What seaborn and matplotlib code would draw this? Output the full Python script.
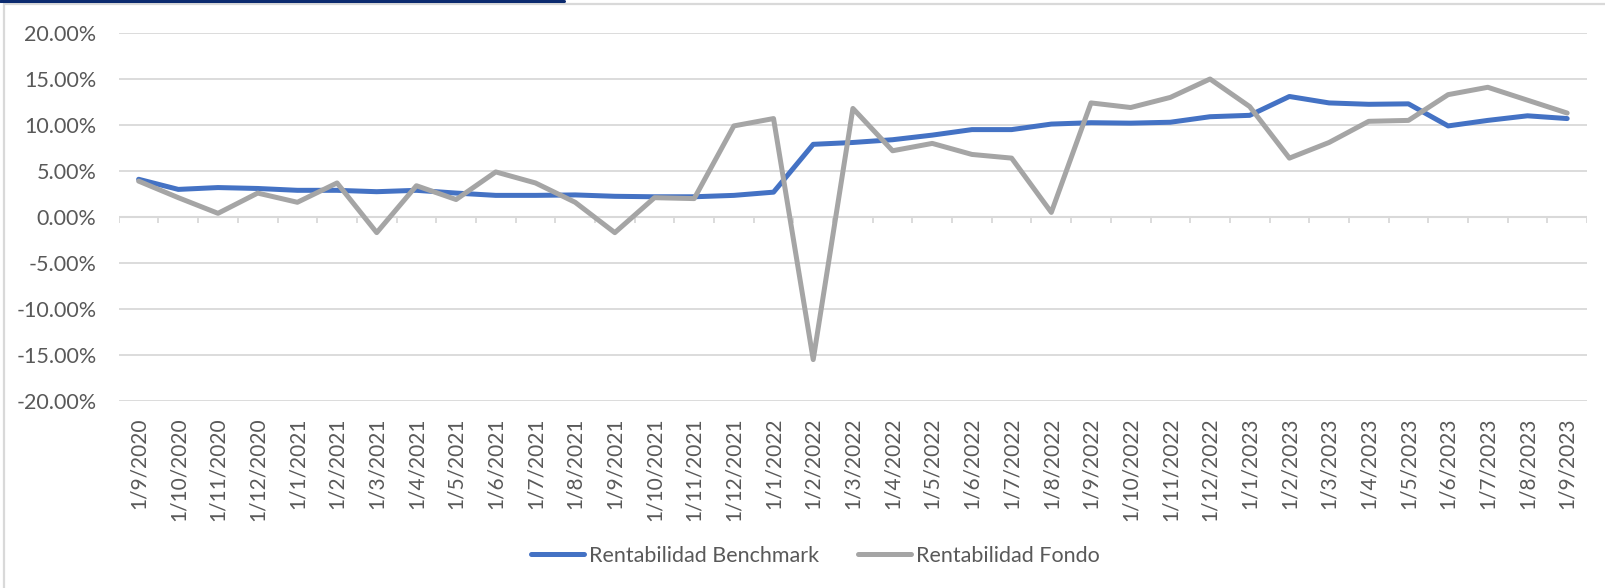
import numpy as np
import pandas as pd
import matplotlib
matplotlib.use("Agg")
import matplotlib.pyplot as plt
from matplotlib.lines import Line2D
import seaborn as sns

dates = ["1/9/2020", "1/10/2020", "1/11/2020", "1/12/2020",
         "1/1/2021", "1/2/2021", "1/3/2021", "1/4/2021", "1/5/2021", "1/6/2021",
         "1/7/2021", "1/8/2021", "1/9/2021", "1/10/2021", "1/11/2021", "1/12/2021",
         "1/1/2022", "1/2/2022", "1/3/2022", "1/4/2022", "1/5/2022", "1/6/2022",
         "1/7/2022", "1/8/2022", "1/9/2022", "1/10/2022", "1/11/2022", "1/12/2022",
         "1/1/2023", "1/2/2023", "1/3/2023", "1/4/2023", "1/5/2023", "1/6/2023",
         "1/7/2023", "1/8/2023", "1/9/2023"]

benchmark = [4.1, 3.0, 3.2, 3.1, 2.9, 2.9, 2.75, 2.9, 2.6, 2.35,
             2.35, 2.4, 2.25, 2.2, 2.2, 2.35, 2.7, 7.9, 8.1, 8.4,
             8.9, 9.5, 9.5, 10.1, 10.25, 10.2, 10.3, 10.9, 11.05, 13.1,
             12.4, 12.25, 12.3, 9.9, 10.5, 11.0, 10.7]

fondo = [3.9, 2.1, 0.4, 2.6, 1.6, 3.7, -1.7, 3.4, 1.9, 4.9,
         3.7, 1.6, -1.7, 2.1, 2.0, 9.9, 10.7, -15.5, 11.8, 7.2,
         8.0, 6.8, 6.4, 0.5, 12.4, 11.9, 13.0, 15.0, 12.0, 6.4,
         8.1, 10.4, 10.5, 13.3, 14.1, 12.7, 11.3]

series_names = ["Rentabilidad Benchmark", "Rentabilidad Fondo"]
colors = ["#4472C4", "#A5A5A5"]
y_ticks = [-20, -15, -10, -5, 0, 5, 10, 15, 20]

sns.set_theme(style="white")
plt.rcParams["font.family"] = ["Lato", "DejaVu Sans"]

df = pd.DataFrame({
    "pos": list(range(len(dates))) * 2,
    "value": benchmark + fondo,
    "serie": [series_names[0]] * len(dates) + [series_names[1]] * len(dates),
})

W, H = 1606, 588
fig = plt.figure(figsize=(W / 100, H / 100), dpi=100)
fig.patch.set_facecolor("white")
ax = fig.add_axes([118.8 / W, 1 - 401 / H, (1587 - 118.8) / W, (401 - 33) / H])

grid_c = "#D9D9D9"
text_c = "#595959"

for yv in y_ticks:
    if yv != 0:
        ax.axhline(yv, color=grid_c, lw=1.3, zorder=0)
ax.axhline(0, color=grid_c, lw=1.5, zorder=1)

n = len(dates)
# category tick marks hanging below the zero line
ax.vlines(np.arange(-0.5, n, 1.0), 0, -0.7, colors=grid_c, lw=1.3, zorder=1)

sns.lineplot(data=df, x="pos", y="value", hue="serie", palette=colors,
             hue_order=series_names, sort=False, lw=3.6, ax=ax, legend=False,
             zorder=3)
for ln in ax.lines:
    ln.set_solid_joinstyle("round")
    ln.set_solid_capstyle("round")

ax.set_xlim(-0.5, n - 0.5)
ax.set_ylim(-20, 20)
ax.set_yticks(y_ticks)
ax.set_yticklabels([f"{v:.2f}%" for v in y_ticks], color=text_c, fontsize=15.5)
ax.set_xticks(range(n))
ax.set_xticklabels(dates, rotation=90, color=text_c, fontsize=15, va="top")
ax.tick_params(axis="y", length=0, pad=16)
ax.tick_params(axis="x", length=0, pad=12)
ax.set_xlabel("")
ax.set_ylabel("")
for s in ax.spines.values():
    s.set_visible(False)
ax.set_facecolor("white")

handles = [Line2D([0], [0], color=c, lw=3.6) for c in colors]
fig.legend(handles, series_names, loc="center", bbox_to_anchor=(815 / W, 1 - 556 / H),
           ncol=2, frameon=False, fontsize=15.5, handlelength=2.5,
           handletextpad=0.2, columnspacing=1.8, labelcolor=text_c)

# chart frame and top navy bar
fig.add_artist(Line2D([4 / W, 4 / W], [0, 1 - 4 / H], color=grid_c, lw=1.6,
                      transform=fig.transFigure))
fig.add_artist(Line2D([4 / W, 1], [1 - 4 / H, 1 - 4 / H], color=grid_c, lw=1.6,
                      transform=fig.transFigure))
fig.add_artist(Line2D([0, 564 / W], [1 - 1 / H, 1 - 1 / H], color="#0B2A6F", lw=2.2,
                      transform=fig.transFigure))

fig.savefig("out.png", dpi=100, facecolor="white")
